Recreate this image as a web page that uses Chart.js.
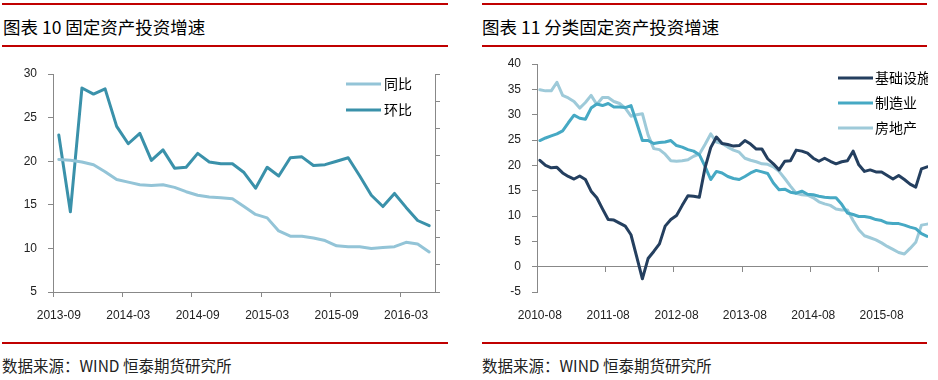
<!DOCTYPE html>
<html lang="zh">
<head>
  <meta charset="UTF-8" />
  <title>固定资产投资增速</title>
  <script src="https://cdn.jsdelivr.net/npm/chart.js"></script>
  <style>
    body {
      margin: 0;
      width: 938px;
      height: 380px;
      background: #fff;
      position: relative;
      overflow: hidden;
      font-family: 'Noto Sans CJK SC', sans-serif;
    }
    .rule { position: absolute; height: 2px; background: #C00000; }
    .title { position: absolute; font-size: 17.5px; line-height: 20px; color: #000; white-space: nowrap; }
    .source { position: absolute; font-size: 15.5px; line-height: 18px; color: #222; white-space: nowrap; }
    .box { position: absolute; }
    .clip { position: absolute; overflow: hidden; }
  </style>
</head>
<body>
  <div class="rule" style="left:2px; top:3px; width:446px;"></div>
  <div class="title" style="left:3px; top:17px;">图表 10 固定资产投资增速</div>
  <div class="rule" style="left:2px; top:45px; width:446px;"></div>
  <div class="box" style="left:0; top:60px; width:450px; height:270px;">
    <canvas id="totalChart"></canvas>
  </div>
  <div class="rule" style="left:2px; top:342px; width:446px;"></div>
  <div class="source" style="left:2px; top:356px;">数据来源：WIND 恒泰期货研究所</div>

  <div class="rule" style="left:482px; top:3px; width:445px;"></div>
  <div class="title" style="left:482px; top:17px;">图表 11 分类固定资产投资增速</div>
  <div class="rule" style="left:482px; top:45px; width:445px;"></div>
  <div class="clip" style="left:470px; top:50px; width:458px; height:280px;">
    <div class="box" style="left:0; top:0; width:480px; height:280px;">
      <canvas id="sectorChart"></canvas>
    </div>
  </div>
  <div class="rule" style="left:482px; top:342px; width:445px;"></div>
  <div class="source" style="left:482px; top:356px;">数据来源：WIND 恒泰期货研究所</div>

  <script>
    // 图表 10: monthly, 2013-09 .. 2016-05
    const totalStart = [2013, 9];
    const totalCount = 33;
    const totalYoY = [20.2, 20.1, 19.9, 19.6, 18.8, 17.9, 17.6, 17.3, 17.2, 17.3, 17.0,
      16.5, 16.1, 15.9, 15.8, 15.7, 14.8, 13.9, 13.5, 12.0, 11.4, 11.4, 11.2, 10.9,
      10.3, 10.2, 10.2, 10.0, 10.1, 10.2, 10.7, 10.5, 9.6];
    const totalMoM = [23.0, 14.2, 28.4, 27.7, 28.3, 24.0, 22.0, 23.2, 20.1, 21.3, 19.2,
      19.3, 20.9, 19.9, 19.7, 19.7, 18.7, 16.9, 19.3, 18.3, 20.4, 20.5, 19.5, 19.6,
      20.0, 20.4, 18.3, 16.1, 14.8, 16.3, 14.7, 13.2, 12.6];

    // 图表 11: monthly, 2010-08 .. 2016-04
    const sectorStart = [2010, 8];
    const sectorCount = 69;
    const infra = [21.0, 20.0, 19.5, 19.6, 18.5, 17.8, 17.3, 17.9, 17.2, 14.9, 13.6, 11.4,
      9.3, 9.2, 8.6, 8.0, 6.3, 2.0, -2.4, 1.6, 3.0, 4.5, 8.0, 9.3, 10.1, 12.1, 14.0,
      13.9, 13.7, 19.5, 23.5, 25.6, 24.3, 24.1, 23.8, 23.9, 24.9, 24.2, 23.2, 23.2,
      21.3, 20.3, 19.1, 20.8, 20.9, 23.0, 22.8, 22.4, 21.4, 20.8, 21.4, 20.8, 20.3,
      20.7, 20.9, 22.8, 20.1, 18.8, 19.1, 18.7, 18.7, 18.0, 17.3, 18.0, 17.2, 16.3,
      15.7, 19.3, 19.7];
    const manufacturing = [24.9, 25.4, 25.8, 26.2, 26.8, 28.4, 29.9, 29.3, 29.1, 31.3, 32.1,
      31.8, 32.2, 31.5, 31.5, 31.4, 31.8, 28.4, 24.9, 24.9, 24.3, 24.5, 24.6, 24.9,
      23.9, 23.6, 23.1, 22.8, 22.1, 19.8, 17.2, 18.8, 18.5, 17.8, 17.4, 17.2, 17.8,
      18.5, 19.0, 18.7, 18.4, 16.5, 15.2, 15.3, 14.7, 14.5, 14.9, 14.3, 14.2, 13.9,
      13.7, 13.6, 13.6, 12.3, 10.6, 10.3, 9.9, 9.9, 9.7, 9.3, 9.1, 8.6, 8.5, 8.5, 8.2,
      7.8, 7.5, 6.5, 6.0];
    const realEstate = [34.9, 34.7, 34.7, 36.4, 33.8, 33.3, 32.6, 31.3, 32.4, 33.8, 32.0,
      33.4, 33.4, 32.6, 32.2, 31.3, 29.7, 30.0, 30.2, 26.0, 23.3, 23.1, 22.2, 20.9,
      20.8, 20.9, 21.1, 21.8, 22.2, 24.1, 26.2, 24.6, 24.3, 23.6, 23.0, 22.6, 21.4,
      21.0, 20.7, 20.3, 20.2, 19.7, 18.8, 17.4, 15.9, 14.5, 14.2, 14.1, 13.6, 12.8,
      12.4, 12.1, 11.4, 11.2, 11.2, 9.1, 7.3, 6.1, 5.7, 5.3, 4.7, 4.0, 3.4, 2.8, 2.5,
      3.6, 4.8, 8.2, 8.4];

    function months([y, m], n) {
      const out = [];
      for (let i = 0; i < n; i++) {
        const t = (m - 1) + i;
        const yy = y + Math.floor(t / 12);
        const mm = (t % 12) + 1;
        out.push(yy + '-' + String(mm).padStart(2, '0'));
      }
      return out;
    }
    const totalLabels = months(totalStart, totalCount);
    const sectorLabels = months(sectorStart, sectorCount);

    Chart.defaults.font.family = "'Liberation Sans', Arial, sans-serif";
    Chart.defaults.font.size = 12;
    Chart.defaults.color = '#222';
    const axisGray = '#888';

    // legend drawn inside the plot, line sample + label, one row per dataset
    const lineLegend = {
      id: 'lineLegend',
      afterDraw(chart, args, opts) {
        const ctx = chart.ctx;
        ctx.save();
        ctx.font = opts.font;
        ctx.textBaseline = 'middle';
        chart.data.datasets.forEach((ds, i) => {
          const y = opts.y + i * opts.rowHeight;
          ctx.strokeStyle = ds.borderColor;
          ctx.lineWidth = ds.borderWidth;
          ctx.beginPath();
          ctx.moveTo(opts.x, y);
          ctx.lineTo(opts.x + opts.lineLength, y);
          ctx.stroke();
          ctx.fillStyle = opts.color;
          ctx.fillText(ds.label, opts.x + opts.lineLength + opts.gap, y);
        });
        ctx.restore();
      }
    };

    // fixed axis width; drop the label-overflow padding so layout.padding decides the top
    const fixY = w => s => { s.width = w; s.paddingTop = 6; s.paddingBottom = 6; };

    const lineStyle = { pointRadius: 0, borderWidth: 3, tension: 0, borderJoinStyle: 'round', borderCapStyle: 'round' };

    new Chart(document.getElementById('totalChart'), {
      type: 'line',
      data: {
        labels: totalLabels,
        datasets: [
          { label: '同比', data: totalYoY, borderColor: '#93C4D7', ...lineStyle },
          { label: '环比', data: totalMoM, borderColor: '#3A91AA', ...lineStyle }
        ]
      },
      plugins: [lineLegend],
      options: {
        responsive: true,
        maintainAspectRatio: false,
        animation: false,
        layout: { padding: { top: 14, right: 0, bottom: 0, left: 0 } },
        plugins: {
          legend: { display: false },
          tooltip: { enabled: false },
          lineLegend: { x: 346, y: 24, rowHeight: 26, lineLength: 35, gap: 3, font: "14px 'Noto Sans CJK SC'", color: '#000' }
        },
        scales: {
          x: {
            offset: true,
            grid: {
              offset: true,
              drawOnChartArea: false,
              tickLength: 5,
              color: c => (c.index !== undefined && c.index % 6 === 0) ? axisGray : 'rgba(0,0,0,0)'
            },
            border: { color: axisGray },
            ticks: {
              autoSkip: false,
              maxRotation: 0,
              padding: 11,
              callback: (v, i) => i % 6 === 0 ? totalLabels[i] : ''
            },
            afterFit: s => { s.height = 38; }
          },
          y: {
            min: 5,
            max: 30,
            ticks: { stepSize: 5, padding: 11 },
            grid: { drawOnChartArea: false, tickLength: 5, color: axisGray },
            border: { color: axisGray },
            afterFit: fixY(53)
          },
          y1: {
            position: 'right',
            min: 0,
            max: 8,
            ticks: { stepSize: 1, display: false },
            grid: { drawOnChartArea: false, tickLength: 5, color: axisGray },
            border: { color: axisGray },
            afterFit: fixY(15)
          }
        }
      }
    });

    new Chart(document.getElementById('sectorChart'), {
      type: 'line',
      data: {
        labels: sectorLabels,
        datasets: [
          { label: '基础设施', data: infra, borderColor: '#243F5F', ...lineStyle },
          { label: '制造业', data: manufacturing, borderColor: '#46A9C4', ...lineStyle },
          { label: '房地产', data: realEstate, borderColor: '#9ECAD9', ...lineStyle }
        ]
      },
      plugins: [lineLegend],
      options: {
        responsive: true,
        maintainAspectRatio: false,
        animation: false,
        layout: { padding: { top: 14, right: 20, bottom: 0, left: 0 } },
        plugins: {
          legend: { display: false },
          tooltip: { enabled: false },
          lineLegend: { x: 368, y: 28, rowHeight: 25, lineLength: 35, gap: 2, font: "14px 'Noto Sans CJK SC'", color: '#000' }
        },
        scales: {
          x: {
            position: { y: 0 },
            offset: true,
            grid: {
              offset: true,
              drawOnChartArea: false,
              tickLength: 5,
              color: c => (c.index !== undefined && c.index % 12 === 0) ? axisGray : 'rgba(0,0,0,0)'
            },
            border: { color: axisGray },
            ticks: { display: false }
          },
          x2: {
            type: 'category',
            position: 'bottom',
            offset: true,
            grid: { display: false, drawTicks: false },
            border: { display: false },
            ticks: {
              autoSkip: false,
              maxRotation: 0,
              padding: 16,
              callback: (v, i) => i % 12 === 0 ? sectorLabels[i] : ''
            },
            afterFit: s => { s.height = 38; }
          },
          y: {
            min: -5,
            max: 40,
            ticks: { stepSize: 5, padding: 11 },
            grid: { drawOnChartArea: false, tickLength: 5, color: axisGray },
            border: { color: axisGray },
            afterFit: fixY(67)
          }
        }
      }
    });
  </script>
</body>
</html>
